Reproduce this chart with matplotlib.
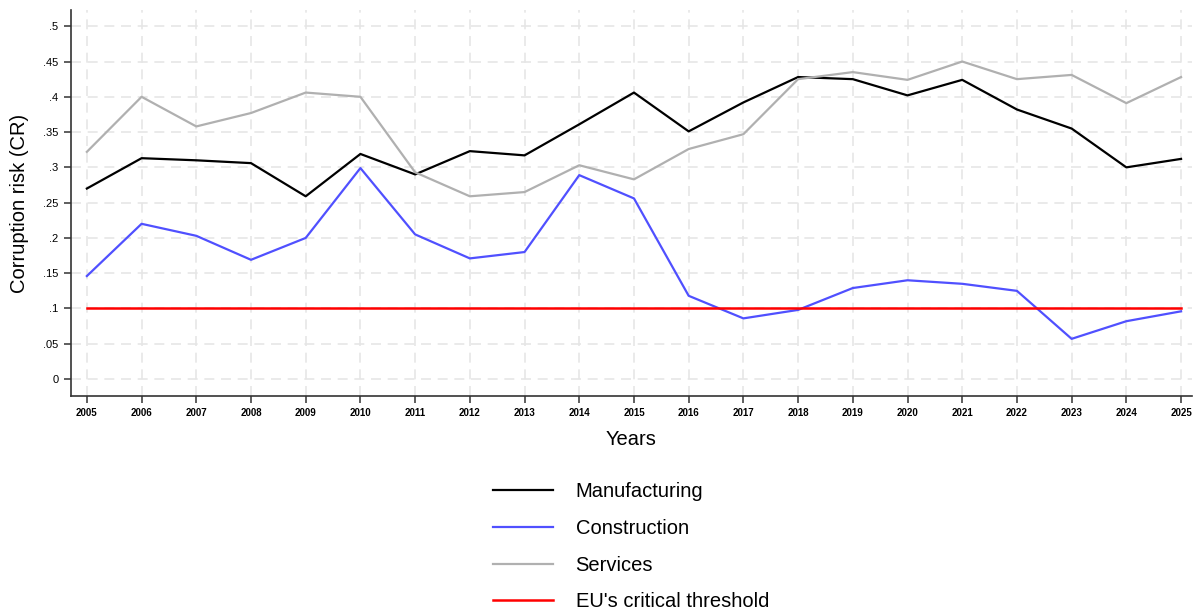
import matplotlib
matplotlib.use("Agg")
import matplotlib.pyplot as plt

plt.rcParams['font.family'] = ['Liberation Sans', 'DejaVu Sans']

years = list(range(2005, 2026))
manufacturing = [0.270, 0.313, 0.310, 0.306, 0.259, 0.319, 0.290, 0.323, 0.317, 0.361, 0.406,
                 0.351, 0.392, 0.428, 0.425, 0.402, 0.424, 0.382, 0.355, 0.300, 0.312]
construction = [0.146, 0.220, 0.203, 0.169, 0.200, 0.299, 0.205, 0.171, 0.180, 0.289, 0.256,
                0.118, 0.086, 0.098, 0.129, 0.140, 0.135, 0.125, 0.057, 0.082, 0.096]
services = [0.322, 0.400, 0.358, 0.377, 0.406, 0.400, 0.293, 0.259, 0.265, 0.303, 0.283,
            0.326, 0.347, 0.425, 0.435, 0.424, 0.450, 0.425, 0.431, 0.391, 0.428]
threshold = [0.1] * len(years)

y_ticks = [0, 0.05, 0.1, 0.15, 0.2, 0.25, 0.3, 0.35, 0.4, 0.45, 0.5]
y_tick_labels = ["0", ".05", ".1", ".15", ".2", ".25", ".3", ".35", ".4", ".45", ".5"]

fig = plt.figure(figsize=(11.96, 6.12), dpi=100)
ax = fig.add_axes([71/1196, 1 - 396/612, (1192 - 71)/1196, (396 - 10)/612])

ax.plot(years, manufacturing, color="#000000", lw=1.6, label="Manufacturing", zorder=3)
ax.plot(years, construction, color="#5050ff", lw=1.6, label="Construction", zorder=3)
ax.plot(years, services, color="#b0b0b0", lw=1.6, label="Services", zorder=3)
ax.plot(years, threshold, color="#ff0000", lw=1.8, label="EU's critical threshold", zorder=3)

ax.set_xlim(2004.71, 2025.2)
ax.set_ylim(-0.024, 0.523)
ax.set_xticks(years)
ax.set_xticklabels([str(y) for y in years], fontsize=7, fontweight="bold")
ax.set_yticks(y_ticks)
ax.set_yticklabels(y_tick_labels, fontsize=8)

ax.grid(True, color="#e6e6e6", linestyle=(0, (6, 4)), linewidth=1.2, zorder=0)
for s in ["top", "right"]:
    ax.spines[s].set_visible(False)
for s in ["left", "bottom"]:
    ax.spines[s].set_color("#333333")
    ax.spines[s].set_linewidth(1.2)
ax.tick_params(axis="both", direction="out", length=5, width=1.1, color="#333333", pad=4)

ax.set_xlabel("Years", fontsize=14.5, labelpad=8)
ax.set_ylabel("Corruption risk (CR)", fontsize=14.5, labelpad=10)

fig.legend(loc="upper center", bbox_to_anchor=(631/1196, 1 - 464/612), ncol=1, frameon=False,
           fontsize=14.5, handlelength=3.0, handletextpad=1.1, labelspacing=0.88)

fig.savefig("out.png", dpi=100)
